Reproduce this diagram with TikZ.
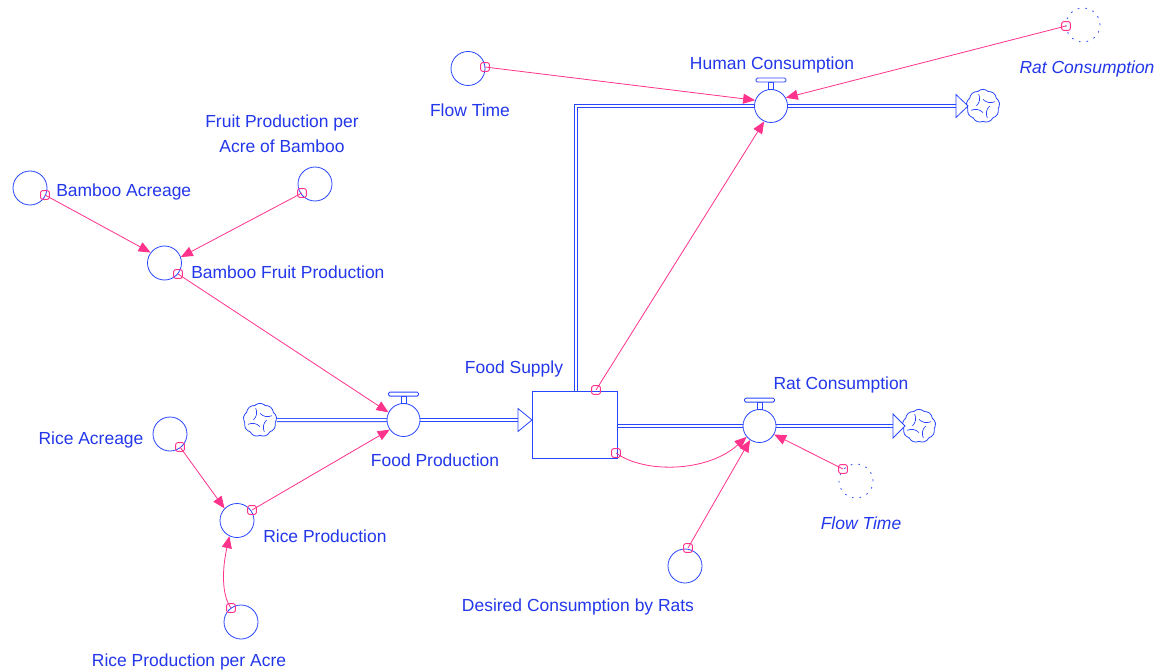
\documentclass[tikz,border=0pt]{standalone}
\usepackage{fontspec}
\setmainfont{Liberation Sans}
\usetikzlibrary{arrows.meta,shapes.symbols}
\definecolor{lblue}{RGB}{40,70,255}
\definecolor{tblue}{RGB}{35,55,235}
\definecolor{lpink}{RGB}{255,50,140}
\begin{document}
\begin{tikzpicture}[x=0.75pt,y=-0.75pt,
 aux/.style={circle,draw=lblue,line width=0.6pt,minimum size=25.5pt,inner sep=0pt},
 ghost/.style={aux,dash pattern=on 1.2pt off 4.5pt},
 valvec/.style={circle,draw=lblue,line width=0.6pt,minimum size=24.75pt,inner sep=0pt,fill=white},
 stockbox/.style={rectangle,draw=lblue,line width=0.6pt,minimum width=63.75pt,minimum height=50.25pt,inner sep=0pt},
 conn/.style={rectangle,draw=lpink,line width=0.7pt,minimum size=6.5pt,inner sep=0pt,rounded corners=1.5pt},
 link/.style={draw=lpink,line width=0.6pt,-{Triangle[length=9pt,width=7.5pt]}},
 pipe/.style={draw=lblue,line width=0.6pt,double=white,double distance=1.8pt},
 pipetip/.style={draw=lblue,line width=0.6pt,fill=white},
 handle/.style={draw=lblue,line width=0.6pt,fill=white},
 lbl/.style={text=tblue,font=\fontsize{13.1}{15.5}\selectfont,inner sep=0pt,yshift=-1.5pt},
 ilbl/.style={text=tblue,font=\fontsize{13.1}{15.5}\selectfont\itshape,inner sep=0pt,yshift=-1.5pt},
 cloudn/.style={cloud,cloud puffs=9,cloud puff arc=90,aspect=1,draw=lblue,line width=0.6pt,minimum width=25pt,minimum height=25pt,inner sep=0pt,fill=white},
 swirl/.style={draw=lblue,line width=0.5pt}
]
\useasboundingbox (0,0) rectangle (1159,670);
\fill[white] (0,0) rectangle (1159,670);

% auxiliaries
\node[aux] (ba) at (30,188) {};
\node[aux] (fpa) at (315,184) {};
\node[aux] (bfp) at (164.5,263) {};
\node[aux] (ra) at (170,434) {};
\node[aux] (rp) at (237,520.5) {};
\node[aux] (rpa) at (241,622) {};
\node[aux] (ft) at (468,68.5) {};
\node[aux] (dc) at (685,566) {};
\node[ghost] (rcg) at (1083,25) {};
\node[ghost] (ftg) at (856,481) {};

% stock
\node[stockbox] (fs) at (574.5,424.5) {};

% clouds
\node[cloudn] (cl1) at (260,420) {};
\node[cloudn] (cl2) at (919,426) {};
\node[cloudn] (cl3) at (983,106) {};
\foreach \c in {cl1,cl2,cl3}{
  \foreach \a in {20,110,200,290}{
    \draw[swirl] ([shift={(\a:9.5pt)}]\c.center) to[bend left=35] ([shift={(\a+70:5pt)}]\c.center);
  }
}

% pipe helper coordinates
\coordinate (t1) at (532,420);
\coordinate (t2) at (905,426);
\coordinate (t3) at (968,106);
\coordinate (h0) at (576,391);
\coordinate (h1) at (576,106);
\coordinate (r0) at (617,426);

% pipes
\draw[pipe] (cl1.east) -- (387,420);
\draw[pipe] (420,420) -- ([xshift=-10.5pt]t1);
\draw[pipe] (r0) -- (744,426);
\draw[pipe] (775,426) -- ([xshift=-9pt]t2);
\draw[pipe] (h0) -- (h1) -- (755,106);
\draw[pipe] (787,106) -- ([xshift=-9pt]t3);
\draw[pipetip] ([xshift=-10.5pt,yshift=8.6pt]t1) -- (t1) -- ([xshift=-10.5pt,yshift=-8.6pt]t1) -- cycle;
\draw[pipetip] ([xshift=-9pt,yshift=9pt]t2) -- (t2) -- ([xshift=-9pt,yshift=-9pt]t2) -- cycle;
\draw[pipetip] ([xshift=-9pt,yshift=8.6pt]t3) -- (t3) -- ([xshift=-9pt,yshift=-8.6pt]t3) -- cycle;
\node[stockbox] at (fs) {};

% valves
\node[valvec] (fp) at (403.5,420) {};
\node[valvec] (rc) at (759.5,426) {};
\node[valvec] (hc) at (771,106) {};
\foreach \v in {fp,rc,hc}{
  \draw[handle] ([xshift=-1.9pt]\v.north) rectangle ++(5,-7);
  \draw[handle,rounded corners=1pt] ([xshift=-11.25pt,yshift=5.25pt]\v.north) rectangle ++(30,-4);
}

% connectors (link origins)
\node[conn] (cba) at (45,195) {};
\node[conn] (cfpa) at (302,193) {};
\node[conn] (cbfp) at (178,274) {};
\node[conn] (cra) at (180,447) {};
\node[conn] (crp) at (252,510) {};
\node[conn] (crpa) at (231,608) {};
\node[conn] (cfs1) at (596,390) {};
\node[conn] (cfs2) at (616,453) {};
\node[conn] (cdc) at (688,548) {};
\node[conn] (cftg) at (843,469) {};
\node[conn] (cft) at (485,67) {};
\node[conn] (crcg) at (1066,26) {};

% links
\draw[link] (cba.center) -- (bfp.143);
\draw[link] (cfpa.center) -- (bfp.20);
\draw[link] (cbfp.center) -- (fp.153);
\draw[link] (crp.center) -- (fp.215);
\draw[link] (cra.center) -- (rp.136);
\draw[link] (crpa.center) .. controls (223,597) and (221,575) .. (rp.244);
\draw[link] (cfs1.center) -- (hc.-114);
\draw[link] (cft.center) -- (hc.160);
\draw[link] (crcg.center) -- (hc.29);
\draw[link] (cfs2.center) .. controls (645,474) and (708,472) .. (rc.220);
\draw[link] (cdc.center) -- (rc.-124);
\draw[link] (cftg.center) -- (rc.-30);

% labels
\node[lbl,align=center] (lfpa) at (282,132) {Fruit Production per\\[3pt]Acre of Bamboo};
\node[lbl,anchor=west] (lba) at (56,190) {Bamboo Acreage};
\node[lbl,anchor=west] (lbfp) at (191,270) {Bamboo Fruit Production};
\node[lbl] (lra) at (91,438) {Rice Acreage};
\node[lbl,anchor=west] (lrp) at (263,534) {Rice Production};
\node[lbl] (lrpa) at (189,660) {Rice Production per Acre};
\node[lbl] (lfp) at (435,458) {Food Production};
\node[lbl] (lfs) at (514,367) {Food Supply};
\node[lbl] (lrc) at (841,383) {Rat Consumption};
\node[lbl] (lft) at (470,108) {Flow Time};
\node[lbl] (lhc) at (772,63) {Human Consumption};
\node[ilbl] (lrcg) at (1087,67) {Rat Consumption};
\node[ilbl] (lftg) at (861,521) {Flow Time};
\node[lbl] (ldc) at (578,605) {Desired Consumption by Rats};
\end{tikzpicture}
\end{document}
